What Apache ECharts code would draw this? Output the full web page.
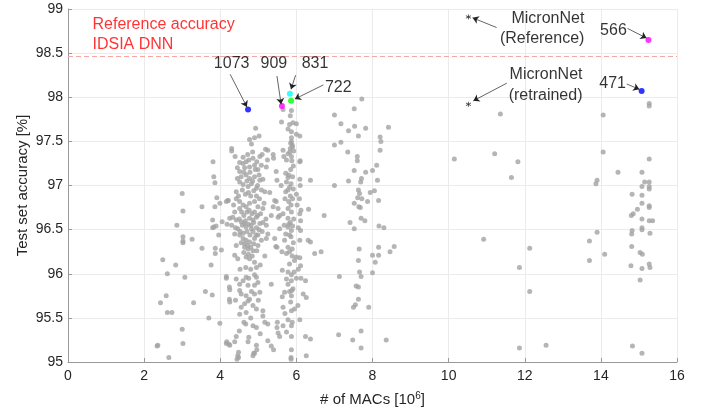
<!DOCTYPE html>
<html><head><meta charset="utf-8">
<script src="https://cdn.jsdelivr.net/npm/echarts@6/dist/echarts.min.js"></script>
<style>html,body{margin:0;padding:0;background:#fff}#c{width:711px;height:418px}</style>
</head><body><div id="c"></div>
<script>
// ---- axis ticks ----
const xTicks = [0, 2, 4, 6, 8, 10, 12, 14, 16];
const yTicks = [95, 95.5, 96, 96.5, 97, 97.5, 98, 98.5, 99];

// ---- grey architecture points [MACs (10^6), test accuracy %] ----
const lowMacPts = [
[3.81,97.27],[3.83,97.10],[3.86,97.03],[3.00,96.91],[3.52,96.76],[3.86,96.76],[3.91,96.86],[3.99,96.80],[4.21,96.83],
[3.02,96.71],[2.86,96.55],[3.80,96.61],[3.80,96.52],[3.83,96.53],[3.89,96.54],[4.05,96.59],[4.18,96.56],[3.96,96.44],
[3.02,96.42],[3.02,96.37],[3.02,96.35],[3.26,96.39],[3.52,96.29],[3.87,96.29],[3.87,96.23],[4.03,96.27],[2.49,96.16],
[2.83,96.10],[3.76,96.10],[2.61,96.00],[3.07,95.96],[4.16,95.97],[4.24,95.85],[4.24,95.71],[3.61,95.80],[3.79,95.76],
[2.58,95.75],[2.43,95.67],[3.30,95.67],[2.61,95.56],[2.73,95.56],[3.70,95.50],[3.99,95.44],[3.00,95.37],[3.02,95.21],
[2.34,95.18],[2.36,95.19],[4.17,95.23],[4.23,95.20],[2.65,95.05],[4.48,95.11],[4.48,95.05],[4.88,95.10],[4.96,95.14],[5.86,95.05]
];
const cluster4Pts = [
[4.93,97.65],[4.77,97.52],[4.90,97.54],[5.02,97.56],[4.82,97.47],[4.30,97.42],[4.30,97.39],[4.39,97.33],[4.51,97.26],
[4.60,97.25],[4.68,97.27],[4.75,97.29],[4.86,97.31],[4.96,97.27],[5.04,97.33],[5.08,97.23],[5.19,97.41],[5.25,97.40],
[5.24,97.29],[5.39,97.35],[5.40,97.31],[4.51,97.16],[4.64,97.20],[4.77,97.21],[4.90,97.23],[4.99,97.18],[5.21,97.21],
[5.47,97.16],[5.49,97.06],[4.68,97.12],[4.77,97.08],[4.90,97.10],[5.04,97.06],[5.12,97.07],[4.51,97.04],[4.60,97.01],
[4.73,96.99],[4.82,97.02],[4.95,96.97],[5.08,96.95],[5.17,96.93],[4.42,96.93],[4.16,96.82],[4.20,96.83],[4.42,96.85],
[4.51,96.82],[4.60,96.78],[4.68,96.76],[4.77,96.80],[4.90,96.82],[4.99,96.76],[5.12,96.74],[4.51,96.74],[4.38,96.70],
[5.43,96.83],[5.47,96.82],[5.39,96.76],[4.25,96.63],[4.33,96.64],[4.42,96.61],[4.55,96.59],[4.64,96.57],[4.77,96.63],
[4.86,96.61],[4.95,96.64],[5.04,96.57],[5.21,96.55],[5.34,96.66],[5.52,96.64],[5.56,96.66],[4.46,96.51],[4.68,96.53],
[4.82,96.51],[4.51,96.44],[4.60,96.40],[4.68,96.38],[4.77,96.36],[4.90,96.40],[4.99,96.44],[5.08,96.38],[5.21,96.40],
[5.25,96.45],[5.43,96.40],[4.42,96.32],[4.64,96.30],[4.73,96.28],[4.86,96.26],[4.99,96.32],[5.46,96.31],[5.49,96.30],
[4.38,96.21],[4.46,96.17],[4.68,96.19],[4.77,96.17],[4.90,96.13],[5.17,96.20],[4.95,96.07],[4.67,96.07],[4.16,95.95],
[4.42,95.94],[4.51,95.88],[4.68,95.96],[4.75,95.95],[4.90,95.99],[4.95,95.96],[4.99,95.90],[4.73,95.87],[4.90,95.87],
[5.34,95.88],[4.25,95.82],[4.51,95.81],[4.55,95.77],[4.68,95.75],[4.77,95.71],[4.90,95.77],[5.04,95.79],[4.25,95.68],
[4.64,95.66],[4.73,95.69],[4.86,95.64],[4.95,95.60],[5.12,95.58],[4.51,95.54],[4.68,95.56],[4.86,95.41],[4.95,95.39],
[5.12,95.52],[5.17,95.45],[5.25,95.43],[5.50,95.45],[5.49,95.39],[4.67,95.43],[4.16,95.21],[4.25,95.19],[4.38,95.23],
[4.42,95.29],[4.46,95.07],[4.44,95.03],[4.75,95.28],[4.73,95.23],[4.95,95.19],[4.90,95.10],[4.86,95.07],[5.25,95.24],
[5.34,95.18],[5.40,95.14],[5.52,95.33],[5.56,95.29],
[4.45,97.20],[4.55,97.10],[4.62,97.15],[4.70,97.05],[4.78,97.15],[4.85,97.05],[4.92,97.18],[4.98,97.00],[5.02,97.12],
[4.58,96.95],[4.66,96.90],[4.74,96.92],[4.80,96.88],[4.88,96.94],[4.95,96.88],[5.03,96.85],[4.48,96.88],[4.56,96.70],
[4.62,96.66],[4.70,96.70],[4.76,96.72],[4.83,96.68],[4.90,96.70],[4.98,96.66],[5.06,96.68],[4.50,96.62],[4.58,96.55],
[4.66,96.60],[4.74,96.56],[4.81,96.55],[4.88,96.58],[4.95,96.52],[5.02,96.50],[4.40,96.52],[4.52,96.48],[4.60,96.46],
[4.70,96.48],[4.78,96.44],[4.86,96.48],[4.94,96.44],[5.10,96.48],[4.55,96.35],[4.64,96.34],[4.72,96.32],[4.80,96.30],
[4.88,96.34],[4.96,96.26],[4.62,96.24],[4.74,96.22],[4.84,96.20],[4.35,96.78],[4.38,96.45],[4.30,96.55],[5.15,96.80],
[5.20,96.62],[5.30,96.92],[5.12,96.58],[4.45,97.08],[4.72,97.35],[4.85,97.38],[4.60,97.32],[5.10,97.35],[4.52,96.05],
[4.80,96.05],[5.05,96.10],[4.60,95.92],[4.82,95.80],[4.40,95.70],[4.55,95.62],[5.00,95.70],[4.80,95.50],[4.62,95.45],
[5.05,95.32],[4.50,95.35]
];
const cluster6Pts = [
[5.65,97.86],[5.87,97.85],[5.61,97.72],[5.84,97.79],[5.82,97.69],[5.91,97.71],[6.00,97.70],[5.78,97.64],[5.87,97.61],
[6.00,97.58],[6.09,97.56],[5.87,97.54],[5.87,97.50],[5.89,97.46],[5.84,97.42],[5.65,97.40],[5.67,97.33],[5.78,97.36],
[5.87,97.33],[5.93,97.39],[5.74,97.29],[6.09,97.27],[5.72,97.14],[5.78,97.09],[5.74,97.04],[5.78,96.95],[5.72,96.93],
[6.09,97.07],[6.37,97.06],[5.52,96.74],[5.65,96.68],[5.78,96.74],[5.87,96.70],[5.78,96.63],[6.09,96.68],[6.32,96.73],
[5.56,96.51],[5.78,96.53],[5.82,96.44],[5.87,96.49],[6.11,96.60],[6.11,96.49],[5.69,96.38],[5.78,96.30],[5.89,96.28],
[6.09,96.38],[6.31,96.38],[6.37,96.36],[5.74,96.23],[5.89,96.20],[6.00,96.19],[6.09,96.18],[5.82,96.11],[6.11,96.09],
[6.48,96.23],[5.63,96.04],[5.78,96.02],[5.87,95.99],[5.94,96.02],[5.74,95.94],[5.87,95.92],[6.24,95.92],[5.69,95.79],
[5.82,95.80],[5.88,95.81],[5.91,95.83],[5.63,95.74],[5.87,95.75],[6.18,95.77],[6.26,95.73],[5.65,95.62],[5.87,95.58],
[6.04,95.64],[5.78,95.48],[5.89,95.45],[6.09,95.48],[5.65,95.41],[5.87,95.41],[5.74,95.34],[5.87,95.29],[6.24,95.29],
[6.37,95.26],[5.87,95.14],[6.26,95.07],[5.86,95.03],
[5.85,97.48],[5.90,97.44],[5.83,97.38],[5.88,97.28],[5.92,97.22],[5.85,97.18],[5.80,97.12],[5.90,97.10],[5.86,97.02],
[5.82,96.98],[5.92,96.96],[5.84,96.88],[5.90,96.85],[5.80,96.82],[5.86,96.78],[5.93,96.62],[5.84,96.58],[5.80,96.56],
[5.90,96.54],[5.86,96.42],[5.92,96.35],[5.82,96.25],[5.95,96.15],[5.70,96.85],[5.68,96.55],[5.72,96.45],[6.00,96.90],
[6.02,96.78],[6.05,96.52],[6.10,97.00],[6.08,96.85],[6.12,96.72],[5.60,97.00],[5.62,96.25],[5.78,95.88],[5.85,95.68],
[5.70,95.55],[6.00,95.95],[6.05,96.05],[5.95,95.60],[6.12,95.95],[6.73,96.66],[6.65,96.25],[6.10,97.28]
];
const cluster8Pts = [
[7.72,97.98],[7.52,97.87],[7.00,97.80],[7.17,97.70],[7.53,97.67],[7.63,97.56],[7.37,97.62],[7.82,97.65],[8.42,97.66],
[7.00,97.46],[7.17,97.49],[8.20,97.55],[8.22,97.50],[8.20,97.40],[7.35,97.38],[7.60,97.33],[7.60,97.28],[8.11,97.23],
[7.52,97.17],[7.82,97.15],[8.00,97.17],[7.71,97.08],[7.69,97.04],[7.37,97.05],[7.00,97.00],[8.13,97.06],[7.63,96.95],
[7.66,96.91],[7.61,96.86],[7.52,96.80],[7.72,96.85],[7.87,96.82],[7.94,96.92],[8.05,96.94],[8.16,96.83],[7.68,96.75],
[7.64,96.76],[7.70,96.63],[7.80,96.60],[7.41,96.58],[7.52,96.51],[8.17,96.54],[8.30,96.52],[7.65,96.28],[7.63,96.15],
[8.16,96.30],[8.00,96.21],[8.16,96.21],[8.07,96.13],[8.57,96.31],[8.46,96.25],[7.66,96.02],[7.70,95.97],[8.00,96.01],
[7.13,95.97],[7.57,95.86],[7.63,95.85],[7.63,95.71],[7.55,95.65],[7.50,95.62],[7.90,95.62],[7.11,95.31],[7.70,95.35],
[7.48,95.25],[7.70,95.16],[8.36,95.25]
];
const farPts = [
[11.36,97.81],[10.15,97.30],[11.21,97.36],[11.82,97.27],[11.65,97.09],[10.92,96.39],[12.13,96.29],[11.86,96.07],[12.13,95.80],
[11.86,95.16],[12.56,95.19],[14.06,97.80],[14.06,97.38],[14.45,97.15],[15.08,97.15],[15.15,97.04],[15.27,97.04],[15.08,96.99],
[15.27,96.99],[15.27,96.96],[13.90,97.06],[13.87,97.02],[14.82,96.90],[15.08,96.89],[15.08,96.80],[15.27,96.77],[15.27,96.75],
[14.96,96.73],[14.80,96.66],[14.85,96.68],[15.08,96.62],[15.27,96.60],[15.36,96.60],[14.82,96.49],[14.81,96.45],[15.08,96.52],
[15.08,96.50],[15.29,96.46],[13.90,96.47],[13.70,96.37],[14.10,96.22],[13.70,96.15],[14.81,96.31],[15.03,96.24],[15.09,96.22],
[15.27,96.11],[15.29,96.07],[14.79,96.09],[15.08,96.06],[15.03,95.93],[15.27,97.30],[15.27,97.93],[15.27,97.90],[14.83,95.18],
[15.08,95.10]
];

// ---- highlighted networks [MACs, accuracy, colour] ----
const highlightPts = [
[4.73,97.86,'#0000ff'],[5.62,97.90,'#ff00ff'],[5.83,98.04,'#00ffff'],[5.86,97.96,'#00ff00'],
[15.25,98.65,'#ff00ff'],[15.07,98.07,'#0000ff']
];
// MicronNet reference / retrained
const micronPts = [[10.52,98.91],[10.52,97.92]];
const refAccuracy = 98.47;

// ---- annotations [x, y, text] ----
const annoLabels = [
[4.30,98.38,'1073'],[5.41,98.38,'909'],[6.49,98.38,'831'],[7.10,98.11,'722'],
[14.33,98.76,'566'],[14.31,98.15,'471']
];
const micronLabels = [
[13.58,98.89,'MicronNet'],[13.58,98.66,'(Reference)'],
[13.53,98.26,'MicronNet'],[13.53,98.02,'(retrained)']
];
const refLabels = [[0.63,98.82,'Reference accuracy'],[0.63,98.60,'IDSIA DNN']];
// arrows [[x0,y0],[x1,y1]]
const arrows = [
[[4.26,98.26],[4.70,97.89]],
[[5.49,98.24],[5.60,97.92]],
[[5.98,98.25],[5.86,98.09]],
[[6.71,98.14],[5.96,97.98]],
[[11.26,98.79],[10.63,98.90]],
[[11.53,98.16],[10.65,97.96]],
[[14.70,98.78],[15.20,98.67]],
[[14.68,98.15],[15.01,98.09]]
];

const FONT = '"Liberation Sans", Arial, Helvetica, sans-serif';
const chart = echarts.init(document.getElementById('c'), null, {renderer:'canvas'});
const greyPts = [].concat(lowMacPts, cluster4Pts, cluster6Pts, cluster8Pts, farPts);

function textSeries(list, color, pos){
  return {
    type:'scatter', symbolSize:1, silent:true, z:10,
    itemStyle:{color:'rgba(0,0,0,0)'},
    data:list.map(d=>({value:[d[0],d[1]], name:d[2]})),
    label:{show:true, position:pos, distance:0, formatter:p=>p.name,
      color:color, fontSize:16, fontFamily:FONT}
  };
}

chart.setOption({
  animation:false,
  backgroundColor:'#ffffff',
  grid:{left:68, top:9, right:34, bottom:56, containLabel:false},
  xAxis:{
    type:'value', min:xTicks[0], max:xTicks[xTicks.length-1], interval:2,
    name:'# of MACs [10{sup|6}]', nameLocation:'middle', nameGap:29,
    nameTextStyle:{color:'#262626', fontSize:15, fontFamily:FONT,
      rich:{sup:{fontSize:10, verticalAlign:'top', padding:[0,0,8,0], color:'#262626', fontFamily:FONT}}},
    axisLine:{show:true, lineStyle:{color:'#999999', width:1}},
    axisTick:{show:true, inside:true, length:4, lineStyle:{color:'#999999'}},
    axisLabel:{color:'#262626', fontSize:14, fontFamily:FONT, margin:7},
    splitLine:{show:true, lineStyle:{color:'#ebebeb', width:1}}
  },
  yAxis:{
    type:'value', min:yTicks[0], max:yTicks[yTicks.length-1], interval:0.5,
    name:'Test set accuracy [%]', nameLocation:'middle', nameGap:38, nameRotate:90,
    nameMoveOverlap:false,
    nameTextStyle:{color:'#262626', fontSize:15, fontFamily:FONT},
    axisLine:{show:true, lineStyle:{color:'#999999', width:1}},
    axisTick:{show:true, inside:true, length:4, lineStyle:{color:'#999999'}},
    axisLabel:{color:'#262626', fontSize:14, fontFamily:FONT, margin:5},
    splitLine:{show:true, lineStyle:{color:'#ebebeb', width:1}}
  },
  series:[
    {
      type:'scatter', symbolSize:5, silent:true, z:2,
      itemStyle:{color:'#a2a2a2'},
      data:greyPts,
      markLine:{silent:true, symbol:['none','none'], label:{show:false},
        lineStyle:{color:'#f6a5a5', type:[5,3], width:1},
        data:[{yAxis:refAccuracy}]}
    },
    {
      type:'scatter', symbolSize:6, silent:true, z:4,
      data:highlightPts.map(d=>({value:[d[0],d[1]], itemStyle:{color:d[2]}}))
    },
    {
      type:'scatter', silent:true, z:4, symbolSize:5,
      symbol:'path://M0,-5L0,5M-4.33,-2.5L4.33,2.5M-4.33,2.5L4.33,-2.5',
      itemStyle:{color:'none', borderColor:'#333333', borderWidth:1},
      data:micronPts
    },
    {
      type:'lines', coordinateSystem:'cartesian2d', silent:true, z:5,
      symbol:['none','arrow'], symbolSize:6,
      lineStyle:{color:'#222222', width:0.7, opacity:1},
      data:arrows.map(a=>({coords:a}))
    },
    textSeries(annoLabels, '#000000', 'inside'),
    textSeries(micronLabels, '#000000', 'left'),
    textSeries(refLabels, '#ff0000', 'right')
  ]
});
</script>
</body></html>
